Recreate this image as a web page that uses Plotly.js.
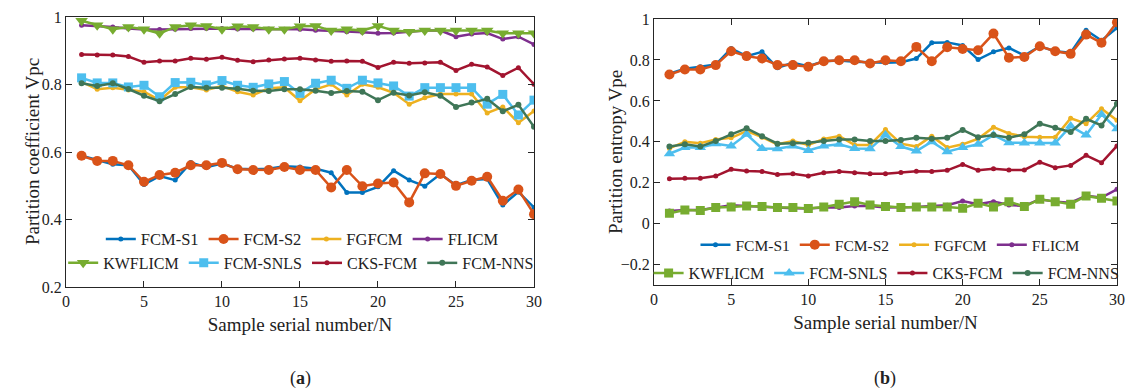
<!DOCTYPE html>
<html>
<head>
<meta charset="utf-8">
<script src="https://cdn.plot.ly/plotly-3.0.1.min.js"></script>
<style>html,body{margin:0;padding:0;background:#fff;}#chart{width:1128px;height:389px;}</style>
</head>
<body>
<div id="chart"></div>
<script>
// Sample serial numbers
var samples = [1,2,3,4,5,6,7,8,9,10,11,12,13,14,15,16,17,18,19,20,21,22,23,24,25,26,27,28,29,30];

var methods = ["FCM-S1","FCM-S2","FGFCM","FLICM","KWFLICM","FCM-SNLS","CKS-FCM","FCM-NNS"];

// (a) Partition coefficient Vpc
var vpc_FCM_S1   = [0.589,0.576,0.564,0.561,0.504,0.529,0.517,0.569,0.555,0.566,0.551,0.549,0.551,0.558,0.556,0.551,0.539,0.480,0.480,0.497,0.545,0.517,0.499,0.535,0.502,0.517,0.520,0.443,0.482,0.436];
var vpc_FCM_S2   = [0.589,0.574,0.574,0.561,0.512,0.532,0.539,0.561,0.561,0.568,0.549,0.547,0.547,0.556,0.547,0.547,0.495,0.547,0.499,0.507,0.510,0.451,0.537,0.535,0.500,0.515,0.527,0.456,0.489,0.416];
var vpc_FGFCM    = [0.808,0.786,0.791,0.784,0.779,0.754,0.792,0.792,0.784,0.796,0.779,0.769,0.789,0.792,0.752,0.786,0.801,0.769,0.801,0.792,0.776,0.742,0.761,0.772,0.772,0.772,0.716,0.734,0.687,0.722];
var vpc_FLICM    = [0.976,0.974,0.971,0.966,0.963,0.963,0.964,0.966,0.966,0.966,0.965,0.965,0.965,0.964,0.964,0.961,0.960,0.957,0.955,0.952,0.953,0.957,0.960,0.960,0.942,0.950,0.953,0.935,0.942,0.919];
var vpc_KWFLICM  = [0.989,0.976,0.964,0.971,0.964,0.952,0.971,0.976,0.974,0.964,0.973,0.971,0.964,0.964,0.973,0.974,0.960,0.964,0.960,0.974,0.960,0.957,0.960,0.960,0.960,0.960,0.960,0.952,0.952,0.952];
var vpc_FCM_SNLS = [0.820,0.805,0.805,0.793,0.798,0.764,0.806,0.807,0.799,0.812,0.798,0.792,0.802,0.809,0.774,0.804,0.813,0.789,0.813,0.805,0.796,0.766,0.791,0.791,0.791,0.791,0.742,0.771,0.710,0.754];
var vpc_CKS_FCM  = [0.889,0.888,0.888,0.883,0.866,0.870,0.870,0.878,0.875,0.881,0.872,0.868,0.873,0.876,0.878,0.873,0.869,0.870,0.869,0.851,0.866,0.863,0.864,0.866,0.842,0.860,0.852,0.827,0.850,0.801];
var vpc_FCM_NNS  = [0.804,0.796,0.804,0.787,0.767,0.751,0.772,0.793,0.791,0.791,0.788,0.782,0.781,0.786,0.786,0.782,0.775,0.781,0.779,0.754,0.776,0.768,0.777,0.767,0.734,0.747,0.758,0.721,0.740,0.675];

// (b) Partition entropy Vpe
var vpe_FCM_S1   = [0.733,0.757,0.767,0.778,0.856,0.819,0.840,0.762,0.786,0.770,0.794,0.797,0.792,0.788,0.786,0.789,0.807,0.884,0.886,0.871,0.802,0.840,0.859,0.822,0.867,0.843,0.835,0.945,0.895,0.957];
var vpe_FCM_S2   = [0.729,0.754,0.754,0.775,0.843,0.819,0.807,0.775,0.775,0.767,0.794,0.799,0.799,0.783,0.799,0.794,0.864,0.794,0.862,0.854,0.848,0.929,0.811,0.815,0.867,0.843,0.830,0.924,0.884,0.984];
var vpe_FGFCM    = [0.368,0.401,0.393,0.412,0.420,0.453,0.423,0.388,0.404,0.385,0.414,0.428,0.385,0.385,0.461,0.391,0.377,0.428,0.372,0.388,0.415,0.472,0.441,0.425,0.423,0.423,0.515,0.489,0.562,0.505];
var vpe_FLICM    = [0.062,0.067,0.067,0.079,0.090,0.087,0.082,0.079,0.076,0.074,0.079,0.079,0.087,0.087,0.079,0.079,0.082,0.087,0.090,0.111,0.095,0.108,0.092,0.087,0.120,0.108,0.103,0.136,0.128,0.168];
var vpe_KWFLICM  = [0.051,0.067,0.065,0.079,0.082,0.087,0.084,0.079,0.079,0.074,0.082,0.095,0.108,0.092,0.084,0.079,0.082,0.082,0.082,0.076,0.100,0.082,0.108,0.084,0.120,0.108,0.095,0.136,0.124,0.111];
var vpe_FCM_SNLS = [0.342,0.372,0.372,0.391,0.380,0.437,0.368,0.366,0.380,0.358,0.380,0.388,0.368,0.366,0.433,0.377,0.355,0.401,0.352,0.372,0.388,0.433,0.396,0.394,0.394,0.394,0.477,0.433,0.534,0.464];
var vpe_CKS_FCM  = [0.220,0.222,0.222,0.233,0.266,0.258,0.255,0.241,0.244,0.233,0.249,0.255,0.249,0.244,0.244,0.250,0.257,0.255,0.261,0.290,0.261,0.269,0.263,0.263,0.301,0.274,0.285,0.334,0.298,0.380];
var vpe_FCM_NNS  = [0.377,0.388,0.377,0.404,0.437,0.466,0.428,0.391,0.393,0.396,0.404,0.412,0.412,0.404,0.404,0.409,0.420,0.415,0.420,0.458,0.423,0.433,0.420,0.437,0.489,0.469,0.448,0.513,0.480,0.586];

var xTicks = [0,5,10,15,20,25,30];
var yTicksA = [0.2,0.4,0.6,0.8,1];
var yTicksB = [-0.2,0,0.2,0.4,0.6,0.8,1];

var colors = ["#0072BD","#D95319","#EDB120","#7E2F8E","#77AC30","#4DBEEE","#A2142F","#3F7657"];
var symA = ["circle","circle","circle","circle","triangle-down","square","circle","circle"];
var symB = ["circle","circle","circle","circle","square","triangle-up","circle","circle"];
var sizesA = [5,10,5,5,11,9,5,6];
var sizesB = [5,10,5,5,9,10,5,6];

var dataA = [vpc_FCM_S1,vpc_FCM_S2,vpc_FGFCM,vpc_FLICM,vpc_KWFLICM,vpc_FCM_SNLS,vpc_CKS_FCM,vpc_FCM_NNS];
var dataB = [vpe_FCM_S1,vpe_FCM_S2,vpe_FGFCM,vpe_FLICM,vpe_KWFLICM,vpe_FCM_SNLS,vpe_CKS_FCM,vpe_FCM_NNS];

var traces = [];
for (var i = 0; i < 8; i++) {
  traces.push({
    x: samples, y: dataA[i], name: methods[i], type: "scatter", mode: "lines+markers",
    xaxis: "x", yaxis: "y",
    line: {color: colors[i], width: 2.5},
    marker: {color: colors[i], symbol: symA[i], size: sizesA[i]},
    legend: i < 4 ? "legend" : "legend2"
  });
}
for (var j = 0; j < 8; j++) {
  traces.push({
    x: samples, y: dataB[j], name: methods[j], type: "scatter", mode: "lines+markers",
    xaxis: "x2", yaxis: "y2",
    line: {color: colors[j], width: 2.5},
    marker: {color: colors[j], symbol: symB[j], size: sizesB[j]},
    legend: j < 4 ? "legend3" : "legend4"
  });
}

var font = "Liberation Serif, Times New Roman, serif";
var axCommon = {
  showgrid: false, zeroline: false, showline: true, mirror: "ticks",
  linecolor: "#262626", linewidth: 1, ticks: "inside", ticklen: 6, tickcolor: "#262626",
  tickfont: {family: font, size: 16, color: "#222"}
};
function ax(extra) { var o = {}; for (var k in axCommon) o[k] = axCommon[k]; for (var k2 in extra) o[k2] = extra[k2]; return o; }

var legCommon = function(x, y, fs) {
  return {orientation: "h", x: x, y: y, xanchor: "center", yanchor: "middle",
    bgcolor: "rgba(0,0,0,0)", borderwidth: 0, font: {family: font, size: fs, color: "#222"},
    itemwidth: 30, tracegroupgap: 0};
};
var titleFont = {family: font, size: 19, color: "#222"};

var layout = {
  width: 1128, height: 389,
  margin: {l: 0, r: 0, t: 0, b: 0},
  paper_bgcolor: "#fff", plot_bgcolor: "#fff",
  showlegend: true,
  xaxis: ax({domain: [0.0585, 0.4734], range: [0, 30], tickvals: xTicks, anchor: "y",
    title: {text: "Sample serial number/N", font: titleFont, standoff: 8}}),
  yaxis: ax({domain: [0.262, 0.956], range: [0.2, 1], tickvals: yTicksA, anchor: "x"}),
  xaxis2: ax({domain: [0.5798, 0.9902], range: [0, 30], tickvals: xTicks, anchor: "y2",
    title: {text: "Sample serial number/N", font: titleFont, standoff: 8}}),
  yaxis2: ax({domain: [0.267, 0.951], range: [-0.3, 1], tickvals: yTicksB, anchor: "x2"}),
  legend: legCommon(0.268, 0.385, 16.5),
  legend2: legCommon(0.267, 0.324, 16),
  legend3: legCommon(0.789, 0.370, 15.5),
  legend4: legCommon(0.786, 0.298, 16),
  annotations: [
    {text: "Partition coefficient Vpc", x: 32/1128, y: 1 - 152/389, xref: "paper", yref: "paper",
     showarrow: false, textangle: -90, xanchor: "center", yanchor: "middle", font: titleFont},
    {text: "Partition entropy Vpe", x: 615/1128, y: 1 - 152/389, xref: "paper", yref: "paper",
     showarrow: false, textangle: -90, xanchor: "center", yanchor: "middle", font: titleFont},
    {text: "(<b>a</b>)", x: 0.266, y: 1 - 378/389, xref: "paper", yref: "paper", showarrow: false,
     xanchor: "center", yanchor: "middle", font: {family: font, size: 18, color: "#222"}},
    {text: "(<b>b</b>)", x: 0.785, y: 1 - 378/389, xref: "paper", yref: "paper", showarrow: false,
     xanchor: "center", yanchor: "middle", font: {family: font, size: 18, color: "#222"}}
  ]
};

Plotly.newPlot("chart", traces, layout, {displayModeBar: false, staticPlot: true});
</script>
</body>
</html>
